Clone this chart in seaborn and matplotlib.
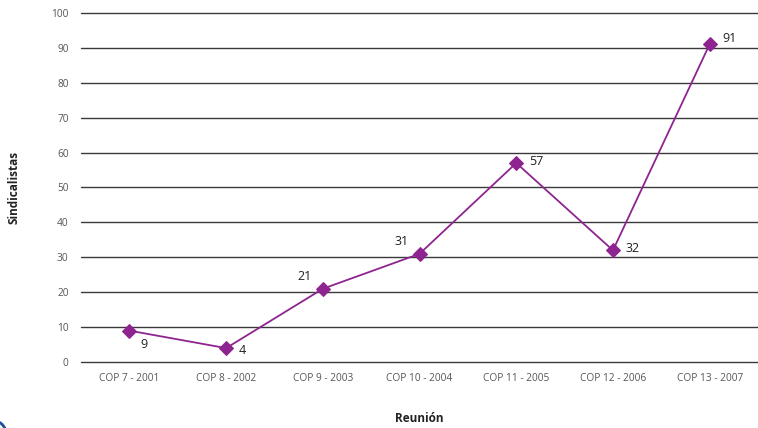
import matplotlib
matplotlib.use("Agg")
import matplotlib.pyplot as plt
import seaborn as sns
import pandas as pd
from matplotlib.patches import Arc

categories = ["COP 7 - 2001", "COP 8 - 2002", "COP 9 - 2003", "COP 10 - 2004",
              "COP 11 - 2005", "COP 12 - 2006", "COP 13 - 2007"]
values = [9, 4, 21, 31, 57, 32, 91]
yticks = [0, 10, 20, 30, 40, 50, 60, 70, 80, 90, 100]

sns.set_theme(style="white")
plt.rcParams['font.family'] = ['Open Sans', 'DejaVu Sans']

df = pd.DataFrame({"cat": categories, "val": values, "x": range(len(categories))})

fig = plt.figure(figsize=(7.58, 4.28), dpi=100)
ax = fig.add_axes([0.107, 0.154, 0.893, 0.816])

for t in yticks:
    ax.axhline(t, color="#3a3a3a", lw=1.0, zorder=1, clip_on=False)

purple = "#8E2490"
sns.lineplot(data=df, x="x", y="val", ax=ax, color=purple, lw=1.3,
             marker="D", markersize=7.5, markeredgecolor=purple, zorder=3)

offsets = [(8, -10, "left"), (9, -2, "left"), (-8, 9, "right"), (-8, 9, "right"),
           (9, 1, "left"), (9, 1, "left"), (9, 4, "left")]
for i, v in enumerate(values):
    dx, dy, ha = offsets[i]
    ax.annotate(str(v), (i, v), xytext=(dx, dy), textcoords="offset points",
                ha=ha, va="center", fontsize=9, color="#222222")

ax.set_xlim(-0.5, len(categories) - 0.5)
ax.set_ylim(0, 100)
ax.set_xticks(range(len(categories)))
ax.set_xticklabels(categories, fontsize=7.3, color="#555555")
ax.set_yticks(yticks)
ax.set_yticklabels([str(t) for t in yticks], fontsize=7.3, color="#555555")
ax.tick_params(axis="both", length=0, pad=8)
ax.tick_params(axis="y", pad=9)
for s in ax.spines.values():
    s.set_visible(False)
ax.set_xlabel("Reunión", fontsize=8.5, fontweight="bold", color="#222222", labelpad=20)
ax.set_ylabel("Sindicalistas", fontsize=8.5, fontweight="bold", color="#222222", labelpad=22)

arc = Arc((-0.005, -0.03), 0.03, 0.09, theta1=0, theta2=90, transform=fig.transFigure,
          color="#1F4E9A", lw=2.0)
fig.patches.append(arc)

fig.savefig("out.png", dpi=100)
